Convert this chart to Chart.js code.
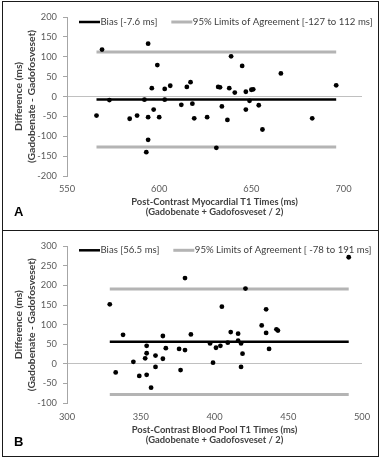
<!DOCTYPE html>
<html>
<head>
<meta charset="utf-8">
<script src="https://cdn.jsdelivr.net/npm/chart.js@4.4.0/dist/chart.umd.min.js"></script>
<style>
  html, body { margin: 0; padding: 0; background: #fff; }
  #wrap { position: relative; width: 381px; height: 460px; overflow: hidden; }
  .panel { position: absolute; left: 0; width: 381px; height: 230px; }
  #panelA { top: 0; }
  #panelB { top: 230px; }
  .frame { position: absolute; border: 1px solid #1a1a1a; box-sizing: border-box; }
  .letter { position: absolute; left: 14px; font: bold 13px/15px 'Liberation Sans', Arial, sans-serif; color: #000; }
</style>
</head>
<body>
<div id="wrap">
  <div class="panel" id="panelA"><canvas id="chartA" width="381" height="230"></canvas></div>
  <div class="panel" id="panelB"><canvas id="chartB" width="381" height="230"></canvas></div>
  <div class="frame" style="left:2px;top:1px;width:377px;height:230px"></div>
  <div class="frame" style="left:2px;top:230px;width:377px;height:227px"></div>
  <div class="letter" style="top:204px">A</div>
  <div class="letter" style="top:434px">B</div>
</div>
<script>
// Panel A: myocardial T1 (mean of the two agents vs difference)
const myoMean = [566, 569, 573, 584, 588, 592, 594, 593, 594, 594, 597, 596, 599, 600, 603, 603, 606, 612, 615, 617, 618, 619, 626, 631, 632, 633, 634, 637, 638, 639, 641, 645, 647, 647, 649, 650, 651, 654, 656, 666, 683, 696];
const myoDiff = [-48, 118, -9, -56, -48, -8, 133, -140, -109, -52, -33, 21, 79, -52, 19, -8, 27, -21, 24, 36, -18, -55, -52, -129, 24, 23, -25, -59, 21, 101, 10, 77, 12, -33, -11, 17, 18, -22, -83, 58, -55, 28];
const myoBias = -7.6;
const myoLimits = [-127, 112];
const myoXTicks = [550, 600, 650, 700];
const myoYTicks = [-200, -150, -100, -50, 0, 50, 100, 150, 200];
const myoLegend = ['Bias [-7.6 ms]', '95% Limits of Agreement [-127 to 112 ms]'];

// Panel B: blood pool T1
const bloodMean = [329, 333, 338, 345, 349, 353, 354, 354, 354, 357, 360, 360, 365, 365, 367, 376, 377, 380, 380, 384, 397, 399, 401, 404, 405, 409, 411, 416, 416, 418, 418, 419, 421, 432, 435, 435, 437, 442, 443, 491];
const bloodDiff = [152, -22, 74, 5, -31, 14, 27, -28, 46, -61, 21, -8, 71, 13, 40, 38, -16, 35, 219, 75, 52, 3, 41, 46, 146, 54, 81, 77, 59, 52, -8, 26, 192, 98, 139, 79, 38, 88, 85, 272];
const bloodBias = 56.5;
const bloodLimits = [-78, 191];
const bloodXTicks = [300, 350, 400, 450, 500];
const bloodYTicks = [-100, -50, 0, 50, 100, 150, 200, 250, 300];
const bloodLegend = ['Bias [56.5 ms]', '95% Limits of Agreement [ -78 to 191 ms]'];

const FONT = "Lato, 'Liberation Sans', Arial, sans-serif";

// legend drawn inside the plot area, like the Excel original
const overlayLegend = {
  id: 'overlayLegend',
  afterDraw(chart, args, opts) {
    const ctx = chart.ctx;
    let x = opts.x;
    ctx.save();
    ctx.font = opts.fontSize + 'px ' + FONT;
    ctx.textBaseline = 'middle';
    chart.data.datasets.filter(d => d.legendText).forEach(d => {
      ctx.strokeStyle = d.borderColor;
      ctx.lineWidth = d.borderWidth;
      ctx.beginPath();
      ctx.moveTo(x, opts.y);
      ctx.lineTo(x + opts.swatch, opts.y);
      ctx.stroke();
      x += opts.swatch + 0.5;
      ctx.fillStyle = '#404040';
      ctx.fillText(d.legendText, x, opts.y);
      x += ctx.measureText(d.legendText).width + opts.gap;
    });
    ctx.restore();
  }
};

function hLine(xs, y) {
  return [{x: Math.min(...xs), y: y}, {x: Math.max(...xs), y: y}];
}

function buildChart(id, o) {
  return new Chart(document.getElementById(id), {
    data: {
      datasets: [
        {
          type: 'scatter',
          data: o.mean.map((x, i) => ({x: x, y: o.diff[i]})),
          pointRadius: 2.4,
          pointHoverRadius: 2.4,
          pointBackgroundColor: '#000',
          pointBorderWidth: 0
        },
        {
          type: 'line', legendText: o.legend[0],
          data: hLine(o.mean, o.bias),
          borderColor: '#000', borderWidth: 2.5, pointRadius: 0
        },
        {
          type: 'line', legendText: o.legend[1],
          data: hLine(o.mean, o.limits[1]),
          borderColor: '#b4b4b4', borderWidth: 3, pointRadius: 0
        },
        {
          type: 'line',
          data: hLine(o.mean, o.limits[0]),
          borderColor: '#b4b4b4', borderWidth: 3, pointRadius: 0
        }
      ]
    },
    options: {
      responsive: false,
      animation: false,
      events: [],
      layout: { padding: { left: 0, right: 19, top: o.top, bottom: 0 } },
      plugins: {
        legend: { display: false },
        tooltip: { enabled: false },
        overlayLegend: { x: 79, y: o.legendY, swatch: 21, gap: 14, fontSize: 9.6 }
      },
      scales: {
        x: {
          type: 'linear',
          min: o.xTicks[0],
          max: o.xMax,
          afterBuildTicks: s => { s.ticks = o.xTicks.map(v => ({value: v})); },
          afterFit: s => { s.height = o.xHeight; },
          grid: { display: false, drawTicks: false, tickLength: 0 },
          border: { display: false },
          ticks: { padding: o.xTickPad, color: '#595959', font: { family: FONT, size: 9.3 }, maxRotation: 0 },
          title: {
            display: true,
            text: o.xTitle,
            color: '#404040',
            font: { family: FONT, size: 9.4, weight: 'bold', lineHeight: 1.13 },
            padding: { top: 0, bottom: o.xTitlePad }
          }
        },
        y: {
          type: 'linear',
          min: o.yTicks[0],
          max: o.yTicks[o.yTicks.length - 1],
          afterBuildTicks: s => { s.ticks = o.yTicks.map(v => ({value: v})); },
          afterFit: s => { s.width = 67; },
          grid: {
            color: c => (c.tick && c.tick.value === 0) ? '#c0c0c0' : 'rgba(0,0,0,0)',
            tickColor: '#a6a6a6',
            tickLength: 4,
            lineWidth: 1
          },
          border: { display: true, color: '#a6a6a6', width: 1 },
          ticks: { padding: 6, color: '#595959', font: { family: FONT, size: 9.3 } },
          title: {
            display: true,
            text: ['Difference (ms)', '(Gadobenate - Gadofosveset)'],
            color: '#404040',
            font: { family: FONT, size: 10.3, weight: 'bold', lineHeight: 1.3 },
            padding: { top: 11.6, bottom: 0 }
          }
        }
      }
    },
    plugins: [overlayLegend]
  });
}

buildChart('chartA', {
  mean: myoMean, diff: myoDiff, bias: myoBias, limits: myoLimits, legend: myoLegend,
  xTicks: myoXTicks, xMax: 710, yTicks: myoYTicks,
  top: 17, xHeight: 54, xTickPad: 7.5, xTitlePad: 12.4, legendY: 22,
  xTitle: ['Post-Contrast Myocardial T1 Times (ms)', '(Gadobenate + Gadofosveset / 2)']
});

buildChart('chartB', {
  mean: bloodMean, diff: bloodDiff, bias: bloodBias, limits: bloodLimits, legend: bloodLegend,
  xTicks: bloodXTicks, xMax: 500, yTicks: bloodYTicks,
  top: 16.3, xHeight: 57, xTickPad: 8.5, xTitlePad: 14.4, legendY: 20.3,
  xTitle: ['Post-Contrast Blood Pool T1 Times (ms)', '(Gadobenate + Gadofosveset / 2)']
});
</script>
</body>
</html>
